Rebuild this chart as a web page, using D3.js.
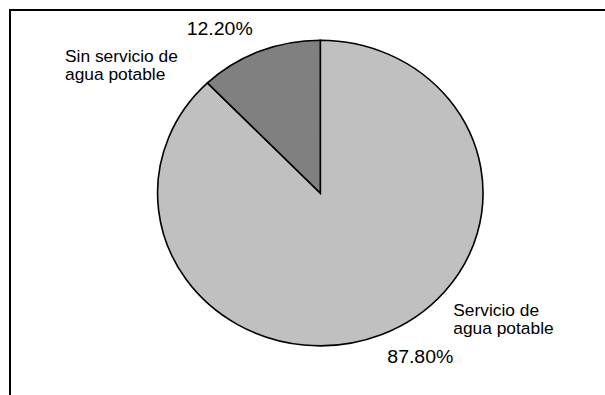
<!DOCTYPE html>
<html><head><meta charset="utf-8">
<script src="https://cdn.jsdelivr.net/npm/d3@7"></script>
<style>html,body{margin:0;padding:0;background:#fff;}svg{display:block;}</style>
</head><body>
<script>
const categories = ["Servicio de agua potable", "Sin servicio de agua potable"];
const values = [87.8, 12.2];
const valueLabels = ["87.80%", "12.20%"];
const categoryLines = [["Servicio de", "agua potable"], ["Sin servicio de", "agua potable"]];
const colors = ["#c0c0c0", "#808080"];

const W = 605, H = 395;
const sx = 1.065;
const svg = d3.select("body").append("svg").attr("width", W).attr("height", H);

// frame (only top/left visible)
svg.append("rect").attr("x", 10).attr("y", 10).attr("width", 700).attr("height", 500)
  .attr("fill", "none").attr("stroke", "#000").attr("stroke-width", 2);

const cx = 320.3, cy = 193, r = 152.8;
const g = svg.append("g").attr("transform", `translate(${cx},${cy}) scale(${sx},1)`);
const pie = d3.pie().sort(null).startAngle(0).endAngle(2 * Math.PI)(values);
const arc = d3.arc().innerRadius(0).outerRadius(r);
g.selectAll("path").data(pie).join("path")
  .attr("d", arc)
  .attr("fill", (d, i) => colors[i])
  .attr("stroke", "#000").attr("stroke-width", 1.6)
  .attr("vector-effect", "non-scaling-stroke");

const font = "Liberation Sans, Arial, sans-serif";
// percentage labels
const pctPos = [[387.3, 363.3], [186.7, 35]];
valueLabels.forEach((t, i) => {
  svg.append("text").attr("transform", `translate(${pctPos[i][0]},${pctPos[i][1]}) scale(${sx},1)`)
    .attr("font-family", font).attr("font-size", 18.3).attr("fill", "#000").text(t);
});
// category labels
const catPos = [[453.3, 315.7], [65, 61.5]];
categoryLines.forEach((lines, i) => {
  lines.forEach((ln, j) => {
    svg.append("text").attr("transform", `translate(${catPos[i][0]},${catPos[i][1] + j * 18.6}) scale(${sx},1)`)
      .attr("font-family", font).attr("font-size", 16.3).attr("fill", "#000").text(ln);
  });
});
</script>
</body></html>
